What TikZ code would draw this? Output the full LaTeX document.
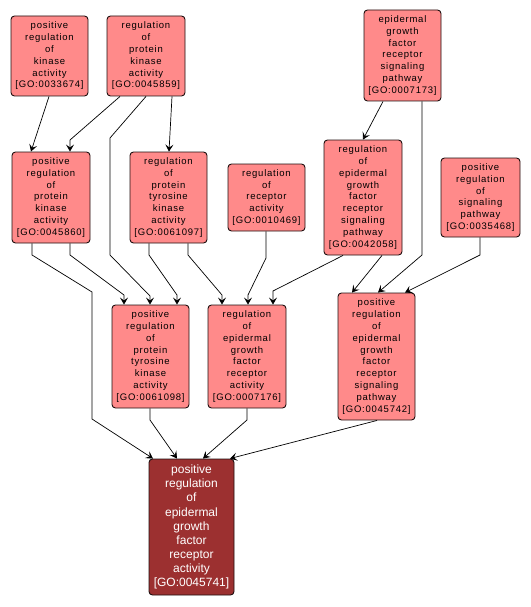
\documentclass[tikz,border=0pt]{standalone}
\usepackage{fontspec}
\usetikzlibrary{arrows.meta}
\newfontfamily\gofont[LetterSpace=8]{Liberation Sans}
\newfontfamily\gobigfont{Liberation Sans}
\definecolor{goLight}{RGB}{255,138,138}
\definecolor{goDark}{RGB}{156,48,48}
\definecolor{goBorder}{RGB}{30,15,15}
\begin{document}
\begin{tikzpicture}[x=1pt,y=-1pt,
  go/.style={draw=goBorder, line width=0.9pt, fill=goLight, rounded corners=3.5pt,
    align=center, inner sep=0pt, text=black,
    font=\gofont\fontsize{9.5}{11.8}\selectfont},
  gotarget/.style={go, fill=goDark, text=white,
    font=\gobigfont\fontsize{12}{14.1}\selectfont},
  edge/.style={draw=black, line width=0.7pt,
    -{Stealth[length=7pt,width=8pt,inset=3pt]}}]
\useasboundingbox (0,0) rectangle (530,607);

\node[go, minimum width=77pt, minimum height=80pt] (A) at (49.5,56)
  {positive\\regulation\\of\\kinase\\activity\\{[GO:0033674]}};
\node[go, minimum width=78pt, minimum height=80pt] (B) at (146,56)
  {regulation\\of\\protein\\kinase\\activity\\{[GO:0045859]}};
\node[go, minimum width=77pt, minimum height=91pt] (C) at (402.5,55.5)
  {epidermal\\growth\\factor\\receptor\\signaling\\pathway\\{[GO:0007173]}};
\node[go, minimum width=78pt, minimum height=91pt] (D) at (51,197.5)
  {positive\\regulation\\of\\protein\\kinase\\activity\\{[GO:0045860]}};
\node[go, minimum width=77pt, minimum height=91pt] (E) at (168.5,197.5)
  {regulation\\of\\protein\\tyrosine\\kinase\\activity\\{[GO:0061097]}};
\node[go, minimum width=77pt, minimum height=67pt] (F) at (266.5,197.5)
  {regulation\\of\\receptor\\activity\\{[GO:0010469]}};
\node[go, minimum width=78pt, minimum height=115pt] (G) at (363,197.5)
  {regulation\\of\\epidermal\\growth\\factor\\receptor\\signaling\\pathway\\{[GO:0042058]}};
\node[go, minimum width=79pt, minimum height=79pt] (H) at (480.5,197.5)
  {positive\\regulation\\of\\signaling\\pathway\\{[GO:0035468]}};
\node[go, minimum width=77pt, minimum height=103pt] (I) at (150.5,356.5)
  {positive\\regulation\\of\\protein\\tyrosine\\kinase\\activity\\{[GO:0061098]}};
\node[go, minimum width=78pt, minimum height=103pt] (J) at (247,356.5)
  {regulation\\of\\epidermal\\growth\\factor\\receptor\\activity\\{[GO:0007176]}};
\node[go, minimum width=77pt, minimum height=127pt] (K) at (376.5,356.5)
  {positive\\regulation\\of\\epidermal\\growth\\factor\\receptor\\signaling\\pathway\\{[GO:0045742]}};
\node[gotarget, minimum width=85pt, minimum height=136pt] (L) at (191.5,527)
  {positive\\regulation\\of\\epidermal\\growth\\factor\\receptor\\activity\\{[GO:0045741]}};

\draw[edge] (A.south -| 49,0) -- (D.north -| 31,0);
\draw[edge] (B.south -| 120,0) -- (70,140) -- (D.north -| 70,0);
\draw[edge] (B.south -| 146,0) -- (110,138) -- (110,255) -- (150,296) -- (I.north -| 150,0);
\draw[edge] (B.south -| 172,0) -- (E.north -| 169,0);
\draw[edge] (D.south -| 70,0) -- (70,255) -- (124,295) -- (I.north -| 124,0);
\draw[edge] (D.south -| 32,0) -- (32,255) -- (92,292) -- (92,419) -- (L.north -| 153,0);
\draw[edge] (E.south -| 149,0) -- (149,255) -- (177,295) -- (I.north -| 177,0);
\draw[edge] (E.south -| 188,0) -- (188,255) -- (222,295) -- (J.north -| 222,0);
\draw[edge] (F.south -| 266,0) -- (266,258) -- (248,295) -- (J.north -| 248,0);
\draw[edge] (G.south -| 343,0) -- (273,291) -- (J.north -| 273,0);
\draw[edge] (G.south -| 382,0) -- (K.north -| 352,0);
\draw[edge] (C.south -| 383,0) -- (G.north -| 363,0);
\draw[edge] (C.south -| 422,0) -- (422,255) -- (K.north -| 378,0);
\draw[edge] (H.south -| 480,0) -- (480,255) -- (K.north -| 405,0);
\draw[edge] (I.south -| 150,0) -- (150,420) -- (L.north -| 177,0);
\draw[edge] (J.south -| 247,0) -- (247,420) -- (L.north -| 203,0);
\draw[edge] (K.south -| 377,0) -- (L.north -| 230,0);
\end{tikzpicture}
\end{document}
